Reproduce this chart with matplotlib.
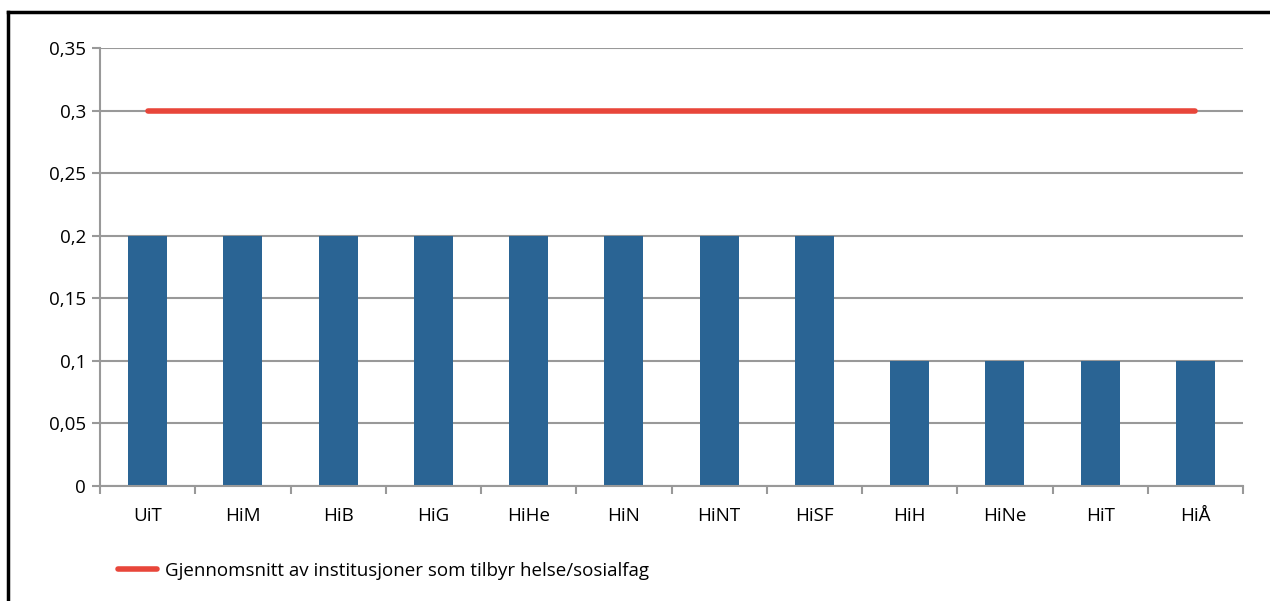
import matplotlib
matplotlib.use("Agg")
import matplotlib.pyplot as plt

institutions = ["UiT", "HiM", "HiB", "HiG", "HiHe", "HiN", "HiNT", "HiSF",
                "HiH", "HiNe", "HiT", "HiÅ"]
values = [0.2, 0.2, 0.2, 0.2, 0.2, 0.2, 0.2, 0.2, 0.1, 0.1, 0.1, 0.1]
average = [0.3] * len(institutions)
y_ticks = [0, 0.05, 0.1, 0.15, 0.2, 0.25, 0.3, 0.35]
y_labels = ["0", "0,05", "0,1", "0,15", "0,2", "0,25", "0,3", "0,35"]
legend_label = "Gjennomsnitt av institusjoner som tilbyr helse/sosialfag"

BAR_COLOR = "#2a6494"
LINE_COLOR = "#e8463a"
GRID_COLOR = "#999999"
FONT_SIZE = 13.5

plt.rcParams["font.family"] = ["Open Sans", "DejaVu Sans"]

fig = plt.figure(figsize=(12.7, 6.01), dpi=100)
ax = fig.add_axes([100 / 1270, 1 - 486 / 601, 1143 / 1270, 438 / 601])

x = list(range(len(institutions)))
ax.bar(x, values, width=0.41, color=BAR_COLOR, zorder=2)
line, = ax.plot(x, average, color=LINE_COLOR, linewidth=4,
                solid_capstyle="round", zorder=3)

ax.set_xlim(-0.5, len(institutions) - 0.5)
ax.set_ylim(0, 0.35)
ax.set_yticks(y_ticks)
ax.set_yticklabels(y_labels, fontsize=FONT_SIZE)
ax.set_xticks(x)
ax.set_xticklabels(institutions, fontsize=FONT_SIZE)
ax.tick_params(axis="x", length=0, pad=15)
ax.set_xticks([i - 0.5 for i in range(len(institutions) + 1)], minor=True)
ax.tick_params(axis="x", which="minor", length=6, width=1.5, color=GRID_COLOR)
ax.tick_params(axis="y", length=6, width=1.5, color=GRID_COLOR, pad=4)

ax.yaxis.grid(True, color=GRID_COLOR, linewidth=1.5, zorder=0)
ax.set_axisbelow(True)
for side in ["top", "right"]:
    ax.spines[side].set_visible(False)
for side in ["left", "bottom"]:
    ax.spines[side].set_color(GRID_COLOR)
    ax.spines[side].set_linewidth(1.5)

# legend below the plot
fig.legend([line], [legend_label], loc="center left",
           bbox_to_anchor=(118 / 1270, 1 - 571 / 601), frameon=False,
           fontsize=FONT_SIZE, handlelength=2.1, handletextpad=0.4,
           borderpad=0, borderaxespad=0)

# frame around the chart (only top and left visible in the original)
fig.add_artist(plt.Line2D([8 / 1270, 8 / 1270], [0, 1 - 12 / 601],
                          color="black", linewidth=2.5))
fig.add_artist(plt.Line2D([8 / 1270, 1], [1 - 12 / 601, 1 - 12 / 601],
                          color="black", linewidth=2.5))

fig.savefig("out.png", dpi=100)
